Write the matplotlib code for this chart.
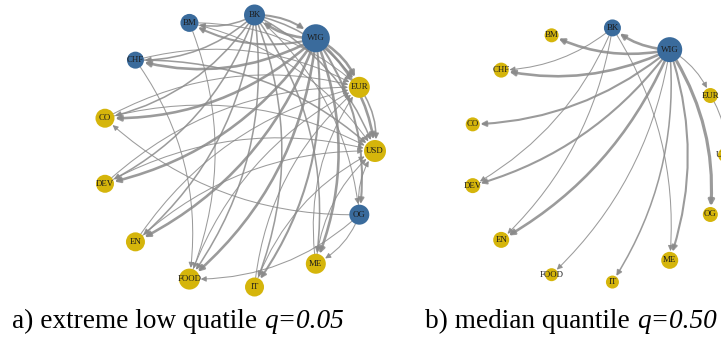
import numpy as np
import matplotlib
matplotlib.use("Agg")
from matplotlib import pyplot as plt
from matplotlib.patches import Circle, FancyArrowPatch, ArrowStyle

# node order around the circle, clockwise starting near the top
nodes = ["BK", "WIG", "EUR", "USD", "OG", "ME", "IT", "FOOD", "EN", "DEV", "CO", "CHF", "BM"]

# q = 0.05 network
a_blue = ["BK", "WIG", "BM", "CHF", "OG"]
a_size = [10.5, 14, 10.5, 11, 10, 10, 9.5, 10.5, 9.5, 9, 9.5, 8.5, 9]
a_edges = [
    ("WIG", "BK", 2.5), ("BK", "WIG", 2.0), ("WIG", "BM", 2.0), ("WIG", "CHF", 2.5),
    ("WIG", "CO", 2.5), ("WIG", "DEV", 2.5), ("WIG", "EN", 2.5), ("WIG", "FOOD", 2.5),
    ("WIG", "IT", 2.0), ("WIG", "ME", 2.5), ("WIG", "OG", 2.0), ("WIG", "USD", 2.5),
    ("WIG", "EUR", 2.5),
    ("BK", "BM", 1.5), ("BK", "CHF", 1.5), ("BK", "CO", 1.5), ("BK", "DEV", 1.5),
    ("BK", "EN", 1.5), ("BK", "FOOD", 1.5), ("BK", "IT", 1.5), ("BK", "ME", 1.5),
    ("BK", "OG", 1.0), ("BK", "USD", 1.5), ("BK", "EUR", 1.5),
    ("BM", "FOOD", 1.0), ("BM", "EUR", 1.0), ("BM", "USD", 1.0),
    ("CHF", "FOOD", 1.0), ("CHF", "USD", 1.5), ("CHF", "EUR", 1.0),
    ("CO", "USD", 1.0), ("CO", "EUR", 1.0), ("DEV", "USD", 1.0), ("DEV", "EUR", 1.0),
    ("EN", "USD", 1.0), ("EN", "EUR", 1.0), ("FOOD", "EUR", 1.0),
    ("IT", "USD", 1.0), ("IT", "EUR", 1.0), ("ME", "USD", 1.0), ("ME", "EUR", 1.0),
    ("OG", "CO", 1.0), ("OG", "FOOD", 1.0), ("OG", "ME", 1.0), ("OG", "USD", 1.0),
    ("EUR", "USD", 1.5),
]

# q = 0.50 network
b_blue = ["BK", "WIG"]
b_size = [8.5, 12.5, 7.5, 7, 7.5, 8.5, 6.5, 6.5, 8, 7.5, 7, 7.5, 7]
b_edges = [
    ("WIG", "BK", 2.5), ("WIG", "BM", 2.5), ("WIG", "CHF", 2.5), ("WIG", "CO", 2.0),
    ("WIG", "DEV", 2.0), ("WIG", "EN", 2.5), ("WIG", "FOOD", 1.0), ("WIG", "IT", 1.5),
    ("WIG", "ME", 2.0), ("WIG", "OG", 3.0), ("WIG", "EUR", 1.0), ("EUR", "USD", 1.0),
    ("BK", "CHF", 1.0), ("BK", "DEV", 1.0), ("BK", "EN", 1.0), ("BK", "ME", 1.0),
]

BLUE = "#3a6b9c"
YELLOW = "#d5b50b"
EDGE = "#8a8a8a"

fig = plt.figure(figsize=(7.21, 3.37), dpi=100)
ax = fig.add_axes([0, 0, 1, 1])
ax.set_xlim(0, 721)
ax.set_ylim(337, 0)
ax.axis("off")


def draw_net(cx, cy, r, sizes, blue, edges, curve):
    ang = np.deg2rad(360 / 13 / 4 + np.arange(len(nodes)) * 360 / 13)
    pos = {n: (cx + r * np.sin(t), cy - r * np.cos(t)) for n, t in zip(nodes, ang)}
    rad = dict(zip(nodes, sizes))
    for s, t, w in edges:
        style = ArrowStyle("-|>", head_length=3.2, head_width=1.6)
        e = FancyArrowPatch(pos[s], pos[t], connectionstyle=f"arc3,rad={curve}",
                            arrowstyle=style, shrinkA=rad[s] * 0.72,
                            shrinkB=rad[t] * 0.72 + 0.5, lw=w * 0.75,
                            color=EDGE, alpha=0.85, zorder=1)
        ax.add_patch(e)
    for n in nodes:
        c = BLUE if n in blue else YELLOW
        ax.add_patch(Circle(pos[n], rad[n], fc=c, ec="none", zorder=2))
        ax.text(pos[n][0], pos[n][1], n, fontsize=6.4, family="Liberation Serif",
                color="#1c1c1c", ha="center", va="center", zorder=3)


draw_net(238, 151, 137, a_size, a_blue, a_edges, -0.2)
draw_net(597, 155, 128, b_size, b_blue, b_edges, -0.17)

# captions: roman text followed by italic q value
fig.canvas.draw()
rend = fig.canvas.get_renderer()
for x0, txt, q in [(12, "a) extreme low quatile ", "q=0.05"),
                   (425, "b) median quantile ", "q=0.50")]:
    t1 = ax.text(x0, 328, txt, fontsize=19.6, family="Liberation Serif",
                 ha="left", va="baseline")
    bb = t1.get_window_extent(rend)
    xe = ax.transData.inverted().transform((bb.x1, bb.y0))[0]
    ax.text(xe, 328, q, fontsize=19.6, family="Liberation Serif", style="italic",
            ha="left", va="baseline")

fig.savefig("out.png", dpi=100)
